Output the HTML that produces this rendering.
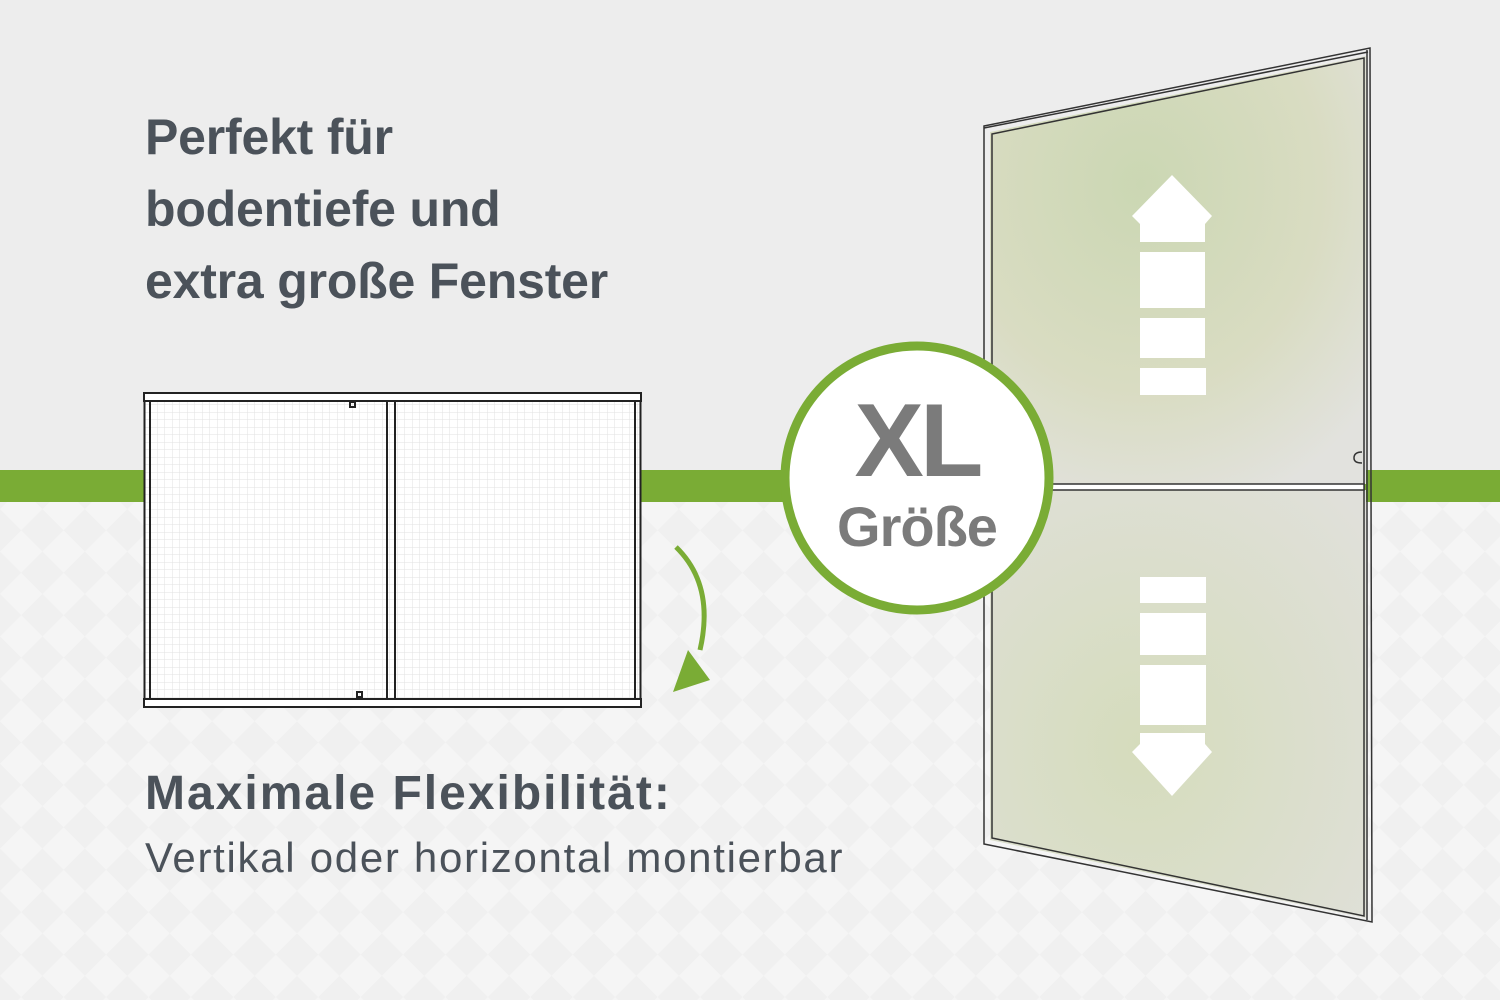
<!DOCTYPE html>
<html><head><meta charset="utf-8"><style>
body{margin:0;width:1500px;height:1000px;overflow:hidden;font-family:"Liberation Sans",sans-serif;background:#ededed;position:relative}
.t{position:absolute;color:#4b525a;font-weight:bold;font-size:50px;letter-spacing:-0.2px;white-space:nowrap}
</style></head><body>
<svg width="1500" height="1000" style="position:absolute;left:0;top:0">
<defs>
<pattern id="dm" width="60" height="60" patternUnits="userSpaceOnUse" patternTransform="rotate(45)">
<rect width="60" height="60" fill="#f5f5f5"/><rect width="30" height="30" fill="#f0f0f0"/><rect x="30" y="30" width="30" height="30" fill="#f0f0f0"/>
</pattern>
<pattern id="gr" width="7.5" height="7.5" patternUnits="userSpaceOnUse"><rect width="7.5" height="7.5" fill="#fff"/><path d="M7.5 0V7.5M0 7.5H7.5" stroke="#e2e2e2" stroke-width="1"/></pattern>
<radialGradient id="g1" cx="0.4" cy="0.3" r="0.8"><stop offset="0" stop-color="#cbd7b3"/><stop offset="0.6" stop-color="#d9dcc2"/><stop offset="1" stop-color="#e2e2de"/></radialGradient>
<radialGradient id="g2" cx="0.4" cy="0.6" r="0.8"><stop offset="0" stop-color="#d5dcbc"/><stop offset="1" stop-color="#e0e0da"/></radialGradient>
</defs>
<rect x="0" y="500" width="1500" height="500" fill="url(#dm)"/>
<rect x="0" y="470" width="1500" height="32" fill="#7aac35"/>
<rect x="144" y="393" width="497" height="314" fill="url(#gr)"/>
<g fill="none" stroke="#222" stroke-width="2">
<rect x="144.5" y="393.5" width="496" height="313"/>
<rect x="150" y="401" width="485" height="298"/>
<line x1="387" y1="394" x2="387" y2="706"/><line x1="395" y1="394" x2="395" y2="706"/>
<rect x="350" y="402" width="5" height="5"/><rect x="357" y="692" width="5" height="5"/>
</g>
<rect x="144" y="393" width="497" height="8" fill="#fff" stroke="#222" stroke-width="2"/>
<rect x="144" y="699" width="497" height="8" fill="#fff" stroke="#222" stroke-width="2"/>
<path d="M676 547 Q715 585 700 650" fill="none" stroke="#7aac35" stroke-width="5"/>
<polygon points="673,692 710,680 688,650" fill="#7aac35"/>
<polygon points="990,132 1366,56 1366,484 990,484" fill="url(#g1)"/>
<polygon points="990,490 1366,490 1366,918 990,840" fill="url(#g2)"/>
<g fill="none" stroke="#333" stroke-width="1.5">
<polygon points="984,126 1370,48 1372,922 984,844"/>
<polygon points="992,134 1364,58 1364,916 992,838"/>
<line x1="984" y1="128" x2="1368" y2="52"/>
<rect x="992" y="484" width="372" height="6" fill="#fff"/>
<line x1="1367" y1="50" x2="1367" y2="920"/>
<path d="M1362 452 q-8 0 -8 6 q0 5 8 5"/>
</g>
<g fill="#fff">
<polygon points="1172,175 1212,216 1205,224 1205,242 1140,242 1140,224 1132,216"/>
<rect x="1140" y="252" width="65" height="56"/><rect x="1140" y="318" width="65" height="40"/><rect x="1140" y="368" width="66" height="27"/>
<rect x="1140" y="577" width="66" height="26"/><rect x="1140" y="613" width="66" height="42"/><rect x="1140" y="665" width="66" height="60"/>
<polygon points="1140,733 1205,733 1205,744 1212,752 1172,796 1132,752 1140,744"/>
</g>
<circle cx="917" cy="478" r="132" fill="#fff" stroke="#7aac35" stroke-width="9"/>
</svg>
<div class="t" style="left:145px;top:108px">Perfekt für</div>
<div class="t" style="left:145px;top:180px">bodentiefe und</div>
<div class="t" style="left:145px;top:252px">extra große Fenster</div>
<div class="t" style="left:145px;top:766px;font-size:48px;letter-spacing:2px">Maximale Flexibilität:</div>
<div class="t" style="left:145px;top:834px;font-size:42px;font-weight:normal;letter-spacing:1.7px">Vertikal oder horizontal montierbar</div>
<div style="position:absolute;left:787px;width:260px;top:386px;text-align:center;color:#7b7b7b;font-weight:bold;font-size:104px;letter-spacing:-4px;line-height:110px">XL</div>
<div style="position:absolute;left:787px;width:260px;top:494px;text-align:center;color:#7b7b7b;font-weight:bold;font-size:56px;letter-spacing:-1px;line-height:66px">Größe</div>
</body></html>
